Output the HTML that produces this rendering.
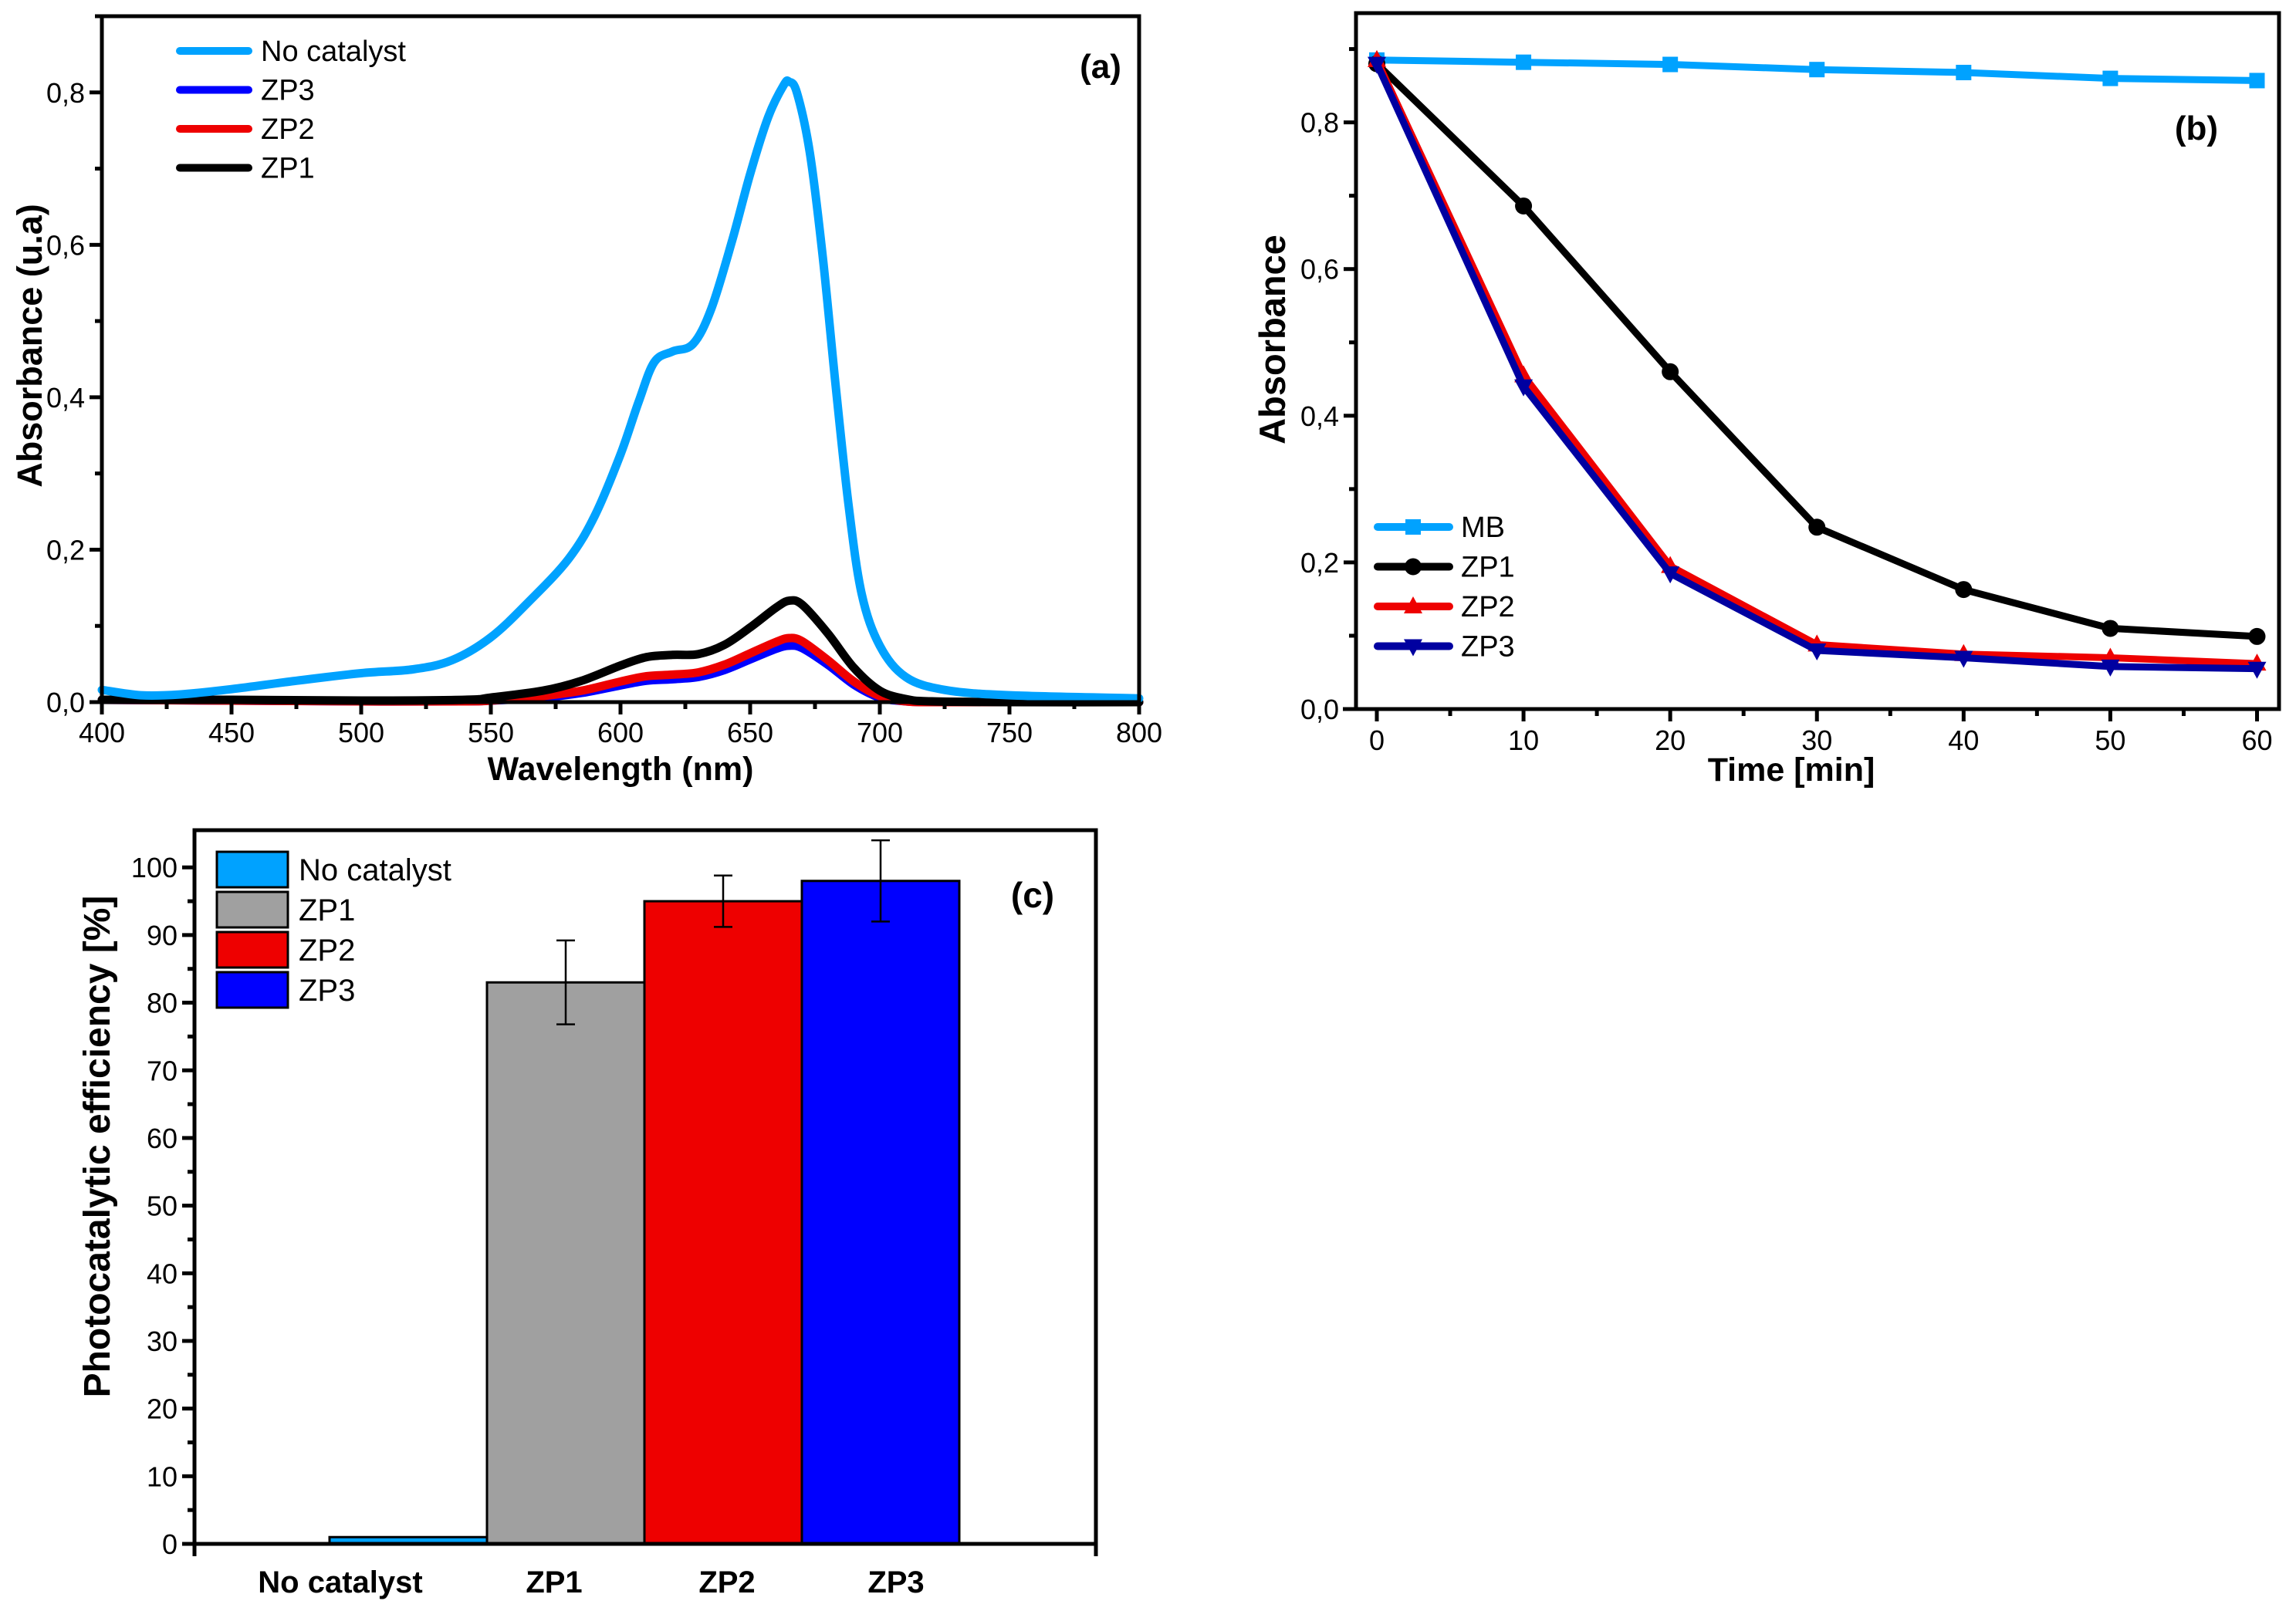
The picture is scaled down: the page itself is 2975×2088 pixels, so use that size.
<!DOCTYPE html>
<html><head><meta charset="utf-8">
<style>
html,body{margin:0;padding:0;background:#fff;}
svg{display:block;font-family:"Liberation Sans",Arial,sans-serif;}
</style></head>
<body>
<svg id="fig" width="2975" height="2088" viewBox="0 0 2975 2088" xmlns="http://www.w3.org/2000/svg">
<g id="pa"></g>
<g id="pb"></g>
<g id="pc"></g>
</svg>
<script>
// ---------- Panel (a) data ----------
const aNoCatX = [400,415,430,450,475,500,520,535,550,565,580,590,600,607,613,620,628,635,643,650,657,663,665,668,673,678,683,688,693,700,710,725,750,800];
const aNoCatY = [0.016,0.009,0.010,0.017,0.028,0.038,0.043,0.055,0.085,0.133,0.188,0.244,0.325,0.394,0.446,0.460,0.470,0.516,0.605,0.693,0.768,0.810,0.814,0.800,0.721,0.584,0.414,0.257,0.142,0.074,0.033,0.016,0.009,0.005];
const aZpX = [400,450,500,540,550,570,585,600,610,620,630,640,650,660,665,670,680,690,700,710,720,750,800];
const aZP1 = [0.003,0.003,0.002,0.003,0.006,0.015,0.028,0.048,0.059,0.062,0.063,0.075,0.098,0.124,0.133,0.128,0.090,0.045,0.015,0.004,0.001,0.000,0.000];
const aZP2 = [0.003,0.002,0.001,0.001,0.002,0.008,0.015,0.027,0.034,0.036,0.039,0.049,0.064,0.079,0.084,0.080,0.055,0.027,0.008,0.001,0.000,0.000,0.000];
const aZP3 = [0.003,0.002,0.001,0.001,0.002,0.006,0.012,0.022,0.028,0.030,0.033,0.042,0.056,0.070,0.074,0.071,0.049,0.023,0.006,0.001,0.000,0.000,0.000];
const aXTicks = [400,450,500,550,600,650,700,750,800];
const aYTicks = [0,0.2,0.4,0.6,0.8];
const aYTickLabels = ["0,0","0,2","0,4","0,6","0,8"];
const aLegend = ["No catalyst","ZP3","ZP2","ZP1"];

// ---------- Panel (b) data ----------
const bTime = [0,10,20,30,40,50,60];
const bMB  = [0.885,0.882,0.879,0.872,0.868,0.860,0.857];
const bZP1 = [0.880,0.686,0.460,0.248,0.163,0.110,0.099];
const bZP2 = [0.885,0.455,0.195,0.088,0.075,0.070,0.062];
const bZP3 = [0.880,0.440,0.185,0.080,0.070,0.058,0.055];
const bXTicks = [0,10,20,30,40,50,60];
const bYTicks = [0,0.2,0.4,0.6,0.8];
const bYTickLabels = ["0,0","0,2","0,4","0,6","0,8"];
const bLegend = ["MB","ZP1","ZP2","ZP3"];

// ---------- Panel (c) data ----------
const cCats = ["No catalyst","ZP1","ZP2","ZP3"];
const cVals = [1,83,95,98];
const cErr  = [0,6.2,3.8,6];
const cYTicks = [0,10,20,30,40,50,60,70,80,90,100];

const NS="http://www.w3.org/2000/svg";
function mk(parent,tag,attrs){const e=document.createElementNS(NS,tag);for(const k in attrs)e.setAttribute(k,attrs[k]);parent.appendChild(e);return e;}
function txt(parent,s,attrs){const e=mk(parent,'text',attrs);e.textContent=s;return e;}
function smoothPath(pts){
  let d='M'+pts[0][0].toFixed(1)+','+pts[0][1].toFixed(1);
  for(let i=0;i<pts.length-1;i++){
    const p0=pts[Math.max(0,i-1)],p1=pts[i],p2=pts[i+1],p3=pts[Math.min(pts.length-1,i+2)];
    const c1x=p1[0]+(p2[0]-p0[0])/6,c1y=p1[1]+(p2[1]-p0[1])/6;
    const c2x=p2[0]-(p3[0]-p1[0])/6,c2y=p2[1]-(p3[1]-p1[1])/6;
    d+=' C'+c1x.toFixed(1)+','+c1y.toFixed(1)+' '+c2x.toFixed(1)+','+c2y.toFixed(1)+' '+p2[0].toFixed(1)+','+p2[1].toFixed(1);
  }
  return d;
}

const LB="#00A2FF", RED="#EE0000", BLUE="#0000FF", NAVY="#0000A0";

// ================= Panel A =================
(function(){
const g=document.getElementById('pa');
const L=132,R=1476,T=21,B=910, x0=400,x1=800,y0=0,y1=0.9;
const X=v=>L+(v-x0)/(x1-x0)*(R-L), Y=v=>B-(v-y0)/(y1-y0)*(B-T);
function line(xs,ys,col,name){
  const p=mk(g,'path',{d:smoothPath(xs.map((x,i)=>[X(x),Y(ys[i])])),fill:'none',stroke:col,'stroke-width':11,'stroke-linejoin':'round','stroke-linecap':'round'});
  
  
}
line(aZpX,aZP3,BLUE,'zp3-spectrum-line');
line(aZpX,aZP2,RED,'zp2-spectrum-line');
line(aZpX,aZP1,'#000','zp1-spectrum-line');
line(aNoCatX,aNoCatY,LB,'no-catalyst-spectrum-line');
const fr=mk(g,'rect',{x:L,y:T,width:R-L,height:B-T,fill:'none',stroke:'#000','stroke-width':5});


aXTicks.forEach(v=>{
  mk(g,'line',{x1:X(v),y1:B,x2:X(v),y2:B+16,stroke:'#000','stroke-width':5});
  const t=txt(g,String(v),{x:X(v),y:B+52,'font-size':36,'text-anchor':'middle'});
  
  
});
for(let v=425;v<800;v+=50) mk(g,'line',{x1:X(v),y1:B,x2:X(v),y2:B+9,stroke:'#000','stroke-width':5});
aYTicks.forEach((v,i)=>{
  mk(g,'line',{x1:L-16,y1:Y(v),x2:L,y2:Y(v),stroke:'#000','stroke-width':5});
  const t=txt(g,aYTickLabels[i],{x:L-22,y:Y(v)+13,'font-size':36,'text-anchor':'end'});
  
  
});
for(let v=0.1;v<0.9;v+=0.2) mk(g,'line',{x1:L-9,y1:Y(v),x2:L,y2:Y(v),stroke:'#000','stroke-width':5});
let t=txt(g,'Wavelength (nm)',{x:(L+R)/2,y:1011,'font-size':43,'font-weight':'bold','text-anchor':'middle'});


t=txt(g,'Absorbance (u.a)',{x:0,y:0,'font-size':45,'font-weight':'bold','text-anchor':'middle',transform:'translate(54,448) rotate(-90)'});


t=txt(g,'(a)',{x:1426,y:101,'font-size':44,'font-weight':'bold','text-anchor':'middle'});


const lc=[LB,BLUE,RED,'#000'];
aLegend.forEach((s,i)=>{
  const y=66+i*50.5;
  const lg=mk(g,'g',{});
  
  
  mk(lg,'line',{x1:233,y1:y,x2:322,y2:y,stroke:lc[i],'stroke-width':10,'stroke-linecap':'round'});
  txt(lg,s,{x:338,y:y+13,'font-size':38});
});
})();

// ================= Panel B =================
(function(){
const g=document.getElementById('pb');
const L=1757,R=2953,T=17,B=919, x0=-1.42,x1=61.5,y0=0,y1=0.949;
const X=v=>L+(v-x0)/(x1-x0)*(R-L), Y=v=>B-(v-y0)/(y1-y0)*(B-T);
function marker(parent,type,cx,cy,col){
  if(type==='sq') return mk(parent,'rect',{x:cx-10,y:cy-10,width:20,height:20,fill:col});
  if(type==='ci') return mk(parent,'circle',{cx:cx,cy:cy,r:11,fill:col});
  if(type==='up') return mk(parent,'polygon',{points:`${cx},${cy-13} ${cx-12},${cy+9} ${cx+12},${cy+9}`,fill:col});
  return mk(parent,'polygon',{points:`${cx},${cy+13} ${cx-12},${cy-9} ${cx+12},${cy-9}`,fill:col});
}
function series(ys,col,type,name){
  const sg=mk(g,'g',{});
  
  
  mk(sg,'polyline',{points:bTime.map((x,i)=>X(x).toFixed(1)+','+Y(ys[i]).toFixed(1)).join(' '),fill:'none',stroke:col,'stroke-width':9,'stroke-linejoin':'round'});
  bTime.forEach((x,i)=>{
    const m=marker(sg,type,X(x),Y(ys[i]),col);
    
    
  });
}
series(bMB,LB,'sq','mb-series');
series(bZP1,'#000','ci','zp1-series');
series(bZP2,RED,'up','zp2-series');
series(bZP3,NAVY,'dn','zp3-series');
const fr=mk(g,'rect',{x:L,y:T,width:R-L,height:B-T,fill:'none',stroke:'#000','stroke-width':5});


mk(g,'line',{x1:1740,y1:B,x2:L,y2:B,stroke:'#000','stroke-width':5});
bXTicks.forEach(v=>{
  mk(g,'line',{x1:X(v),y1:B,x2:X(v),y2:B+16,stroke:'#000','stroke-width':5});
  const t=txt(g,String(v),{x:X(v),y:B+53,'font-size':36,'text-anchor':'middle'});
  
  
});
for(let v=5;v<60;v+=10) mk(g,'line',{x1:X(v),y1:B,x2:X(v),y2:B+9,stroke:'#000','stroke-width':5});
bYTicks.forEach((v,i)=>{
  mk(g,'line',{x1:L-16,y1:Y(v),x2:L,y2:Y(v),stroke:'#000','stroke-width':5});
  const t=txt(g,bYTickLabels[i],{x:L-22,y:Y(v)+13,'font-size':36,'text-anchor':'end'});
  
  
});
for(let v=0.1;v<0.95;v+=0.2) mk(g,'line',{x1:L-9,y1:Y(v),x2:L,y2:Y(v),stroke:'#000','stroke-width':5});
let t=txt(g,'Time [min]',{x:2321,y:1012,'font-size':43,'font-weight':'bold','text-anchor':'middle'});


t=txt(g,'Absorbance',{x:0,y:0,'font-size':47,'font-weight':'bold','text-anchor':'middle',transform:'translate(1665,440) rotate(-90)'});


t=txt(g,'(b)',{x:2846,y:181,'font-size':44,'font-weight':'bold','text-anchor':'middle'});


const lc=[LB,'#000',RED,NAVY], lm=['sq','ci','up','dn'];
bLegend.forEach((s,i)=>{
  const y=683+i*51.5;
  const lg=mk(g,'g',{});
  
  
  mk(lg,'line',{x1:1785,y1:y,x2:1878,y2:y,stroke:lc[i],'stroke-width':10,'stroke-linecap':'round'});
  marker(lg,lm[i],1831,y,lc[i]);
  txt(lg,s,{x:1893,y:y+13,'font-size':38});
});
})();

// ================= Panel C =================
(function(){
const g=document.getElementById('pc');
const L=252,R=1420,T=1076,B=2001, y0=0,y1=105.5;
const Y=v=>B-(v-y0)/(y1-y0)*(B-T);
const barW=204, firstLeft=427;
const barLeft=i=>firstLeft+i*barW;
const fills=[LB,'#A0A0A0',RED,BLUE];
const labelOffset=[-88,-15,5,20];
cVals.forEach((v,i)=>{
  const r=mk(g,'rect',{x:barLeft(i),y:Y(v),width:barW,height:Y(0)-Y(v),fill:fills[i],stroke:'#000','stroke-width':3});
  
  
  if(cErr[i]>0){
    const cx=barLeft(i)+barW/2;
    const eg=mk(g,'g',{stroke:'#000','stroke-width':2.5});
    
    
    mk(eg,'line',{x1:cx,y1:Y(v+cErr[i]),x2:cx,y2:Y(v-cErr[i])});
    mk(eg,'line',{x1:cx-12,y1:Y(v+cErr[i]),x2:cx+12,y2:Y(v+cErr[i])});
    mk(eg,'line',{x1:cx-12,y1:Y(v-cErr[i]),x2:cx+12,y2:Y(v-cErr[i])});
  }
  const t=txt(g,cCats[i],{x:barLeft(i)+barW/2+labelOffset[i],y:2064,'font-size':40,'font-weight':'bold','text-anchor':'middle'});
  
  
});
const fr=mk(g,'rect',{x:L,y:T,width:R-L,height:B-T,fill:'none',stroke:'#000','stroke-width':5});


mk(g,'line',{x1:L,y1:B,x2:L,y2:B+16,stroke:'#000','stroke-width':5});
mk(g,'line',{x1:R,y1:B,x2:R,y2:B+16,stroke:'#000','stroke-width':5});
cYTicks.forEach(v=>{
  mk(g,'line',{x1:L-16,y1:Y(v),x2:L,y2:Y(v),stroke:'#000','stroke-width':5});
  const t=txt(g,String(v),{x:L-22,y:Y(v)+13,'font-size':36,'text-anchor':'end'});
  
  
});
for(let v=5;v<105;v+=10) mk(g,'line',{x1:L-9,y1:Y(v),x2:L,y2:Y(v),stroke:'#000','stroke-width':5});
let t=txt(g,'Photocatalytic efficiency [%]',{x:0,y:0,'font-size':48,'font-weight':'bold','text-anchor':'middle',transform:'translate(142,1486) rotate(-90)'});


t=txt(g,'(c)',{x:1338,y:1176,'font-size':46,'font-weight':'bold','text-anchor':'middle'});


cCats.forEach((s,i)=>{
  const y=1104+i*52;
  const lg=mk(g,'g',{});
  
  
  mk(lg,'rect',{x:281,y:y,width:92,height:46,fill:fills[i],stroke:'#000','stroke-width':3});
  txt(lg,s,{x:387,y:y+37,'font-size':40});
});
})();
</script>
</body></html>
